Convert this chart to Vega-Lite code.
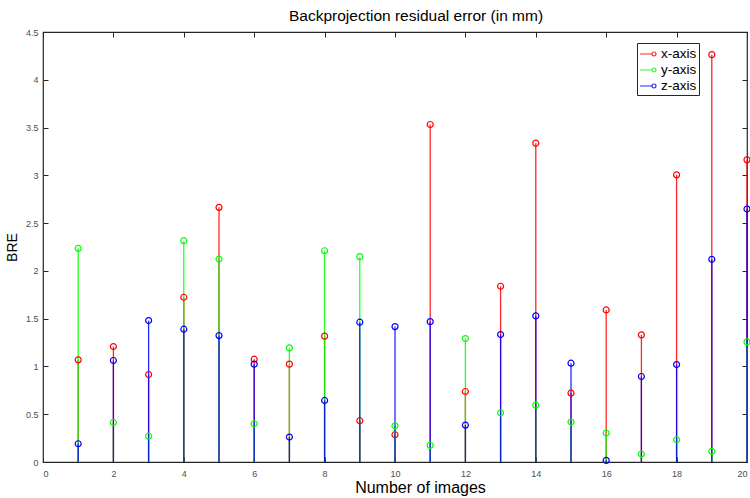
{
  "$schema": "https://vega.github.io/schema/vega-lite/v6.json",
  "autosize": {"type": "none"},
  "padding": {"left": 43, "top": 32, "right": 3, "bottom": 36},
  "width": 704,
  "height": 430,
  "background": "white",
  "title": {
    "text": "Backprojection residual error (in mm)",
    "font": "Liberation Sans",
    "fontSize": 15.5,
    "fontWeight": "normal",
    "color": "black",
    "offset": 4,
    "dx": 21
  },
  "data": {
    "values": [
      {"image": 1, "series": "x-axis", "bre": 1.069},
      {"image": 2, "series": "x-axis", "bre": 1.208},
      {"image": 3, "series": "x-axis", "bre": 0.915},
      {"image": 4, "series": "x-axis", "bre": 1.724},
      {"image": 5, "series": "x-axis", "bre": 2.665},
      {"image": 6, "series": "x-axis", "bre": 1.076},
      {"image": 7, "series": "x-axis", "bre": 1.024},
      {"image": 8, "series": "x-axis", "bre": 1.317},
      {"image": 9, "series": "x-axis", "bre": 0.432},
      {"image": 10, "series": "x-axis", "bre": 0.285},
      {"image": 11, "series": "x-axis", "bre": 3.532},
      {"image": 12, "series": "x-axis", "bre": 0.738},
      {"image": 13, "series": "x-axis", "bre": 1.839},
      {"image": 14, "series": "x-axis", "bre": 3.337},
      {"image": 15, "series": "x-axis", "bre": 0.721},
      {"image": 16, "series": "x-axis", "bre": 1.591},
      {"image": 17, "series": "x-axis", "bre": 1.33},
      {"image": 18, "series": "x-axis", "bre": 3.005},
      {"image": 19, "series": "x-axis", "bre": 4.263},
      {"image": 20, "series": "x-axis", "bre": 3.162},
      {"image": 1, "series": "y-axis", "bre": 2.236},
      {"image": 2, "series": "y-axis", "bre": 0.414},
      {"image": 3, "series": "y-axis", "bre": 0.27},
      {"image": 4, "series": "y-axis", "bre": 2.316},
      {"image": 5, "series": "y-axis", "bre": 2.124},
      {"image": 6, "series": "y-axis", "bre": 0.4},
      {"image": 7, "series": "y-axis", "bre": 1.194},
      {"image": 8, "series": "y-axis", "bre": 2.211},
      {"image": 9, "series": "y-axis", "bre": 2.149},
      {"image": 10, "series": "y-axis", "bre": 0.379},
      {"image": 11, "series": "y-axis", "bre": 0.174},
      {"image": 12, "series": "y-axis", "bre": 1.292},
      {"image": 13, "series": "y-axis", "bre": 0.515},
      {"image": 14, "series": "y-axis", "bre": 0.595},
      {"image": 15, "series": "y-axis", "bre": 0.418},
      {"image": 16, "series": "y-axis", "bre": 0.303},
      {"image": 17, "series": "y-axis", "bre": 0.083},
      {"image": 18, "series": "y-axis", "bre": 0.233},
      {"image": 19, "series": "y-axis", "bre": 0.111},
      {"image": 20, "series": "y-axis", "bre": 1.257},
      {"image": 1, "series": "z-axis", "bre": 0.191},
      {"image": 2, "series": "z-axis", "bre": 1.062},
      {"image": 3, "series": "z-axis", "bre": 1.48},
      {"image": 4, "series": "z-axis", "bre": 1.39},
      {"image": 5, "series": "z-axis", "bre": 1.323},
      {"image": 6, "series": "z-axis", "bre": 1.024},
      {"image": 7, "series": "z-axis", "bre": 0.261},
      {"image": 8, "series": "z-axis", "bre": 0.644},
      {"image": 9, "series": "z-axis", "bre": 1.463},
      {"image": 10, "series": "z-axis", "bre": 1.417},
      {"image": 11, "series": "z-axis", "bre": 1.469},
      {"image": 12, "series": "z-axis", "bre": 0.386},
      {"image": 13, "series": "z-axis", "bre": 1.334},
      {"image": 14, "series": "z-axis", "bre": 1.529},
      {"image": 15, "series": "z-axis", "bre": 1.034},
      {"image": 16, "series": "z-axis", "bre": 0.017},
      {"image": 17, "series": "z-axis", "bre": 0.895},
      {"image": 18, "series": "z-axis", "bre": 1.02},
      {"image": 19, "series": "z-axis", "bre": 2.121},
      {"image": 20, "series": "z-axis", "bre": 2.647}
    ]
  },
  "layer": [
    {
      "mark": {"type": "rule", "strokeWidth": 1.3, "opacity": 0.85},
      "encoding": {
        "x": {
          "field": "image", "type": "quantitative",
          "scale": {"domain": [0, 20], "nice": false, "zero": false},
          "axis": {
            "orient": "bottom",
            "title": "Number of images",
            "values": [0, 2, 4, 6, 8, 10, 12, 14, 16, 18, 20],
            "ticks": false,
            "labelPadding": 7,
            "titleFontSize": 16,
            "titlePadding": 1,
            "titleX": 377
          }
        },
        "y": {
          "field": "bre", "type": "quantitative",
          "scale": {"domain": [0, 4.5], "nice": false},
          "axis": {
            "orient": "left",
            "title": "BRE",
            "format": "~g",
            "values": [0, 0.5, 1, 1.5, 2, 2.5, 3, 3.5, 4, 4.5],
            "ticks": false,
            "labelPadding": 5,
            "titleFontSize": 14,
            "titlePadding": 6
          }
        },
        "y2": {"datum": 0},
        "color": {
          "field": "series", "type": "nominal",
          "scale": {"domain": ["x-axis", "y-axis", "z-axis"], "range": ["#ff0000", "#00ff00", "#0000ff"]},
          "legend": {
            "orient": "none",
            "legendX": 594,
            "legendY": 11,
            "title": null,
            "symbolType": "M-1,0H0.5M1,0A0.25,0.25 0 1,1 0.5,0A0.25,0.25 0 1,1 1,0",
            "symbolSize": 256,
            "symbolStrokeWidth": 1.2,
            "labelFontSize": 13.5,
            "labelFont": "Liberation Sans",
            "labelColor": "black",
            "strokeColor": "#262626",
            "fillColor": "white",
            "padding": 2,
            "rowPadding": 0,
            "labelOffset": 4
          }
        }
      }
    },
    {
      "mark": {"type": "point", "shape": "circle", "filled": false, "size": 36, "strokeWidth": 1.2, "opacity": 1},
      "encoding": {
        "x": {
          "field": "image", "type": "quantitative",
          "axis": {"orient": "bottom", "labels": false, "title": null, "values": [0, 2, 4, 6, 8, 10, 12, 14, 16, 18, 20]}
        },
        "y": {
          "field": "bre", "type": "quantitative",
          "axis": {"orient": "left", "labels": false, "title": null, "values": [0, 0.5, 1, 1.5, 2, 2.5, 3, 3.5, 4, 4.5]}
        },
        "color": {"field": "series", "type": "nominal"}
      }
    },
    {
      "mark": {"type": "point", "opacity": 0},
      "encoding": {
        "x": {
          "field": "image", "type": "quantitative",
          "axis": {"orient": "top", "labels": false, "title": null, "values": [0, 2, 4, 6, 8, 10, 12, 14, 16, 18, 20]}
        },
        "y": {
          "field": "bre", "type": "quantitative",
          "axis": {"orient": "right", "labels": false, "title": null, "values": [0, 0.5, 1, 1.5, 2, 2.5, 3, 3.5, 4, 4.5]}
        }
      }
    }
  ],
  "resolve": {"axis": {"x": "independent", "y": "independent"}},
  "config": {
    "view": {"stroke": "#262626", "strokeWidth": 1.2},
    "axis": {
      "domain": false,
      "grid": false,
      "tickSize": -5,
      "tickColor": "#262626",
      "labelFont": "Liberation Sans",
      "labelFontSize": 9,
      "labelColor": "#4d4d4d",
      "titleFont": "Liberation Sans",
      "titleFontWeight": "normal",
      "titleColor": "black"
    }
  }
}
